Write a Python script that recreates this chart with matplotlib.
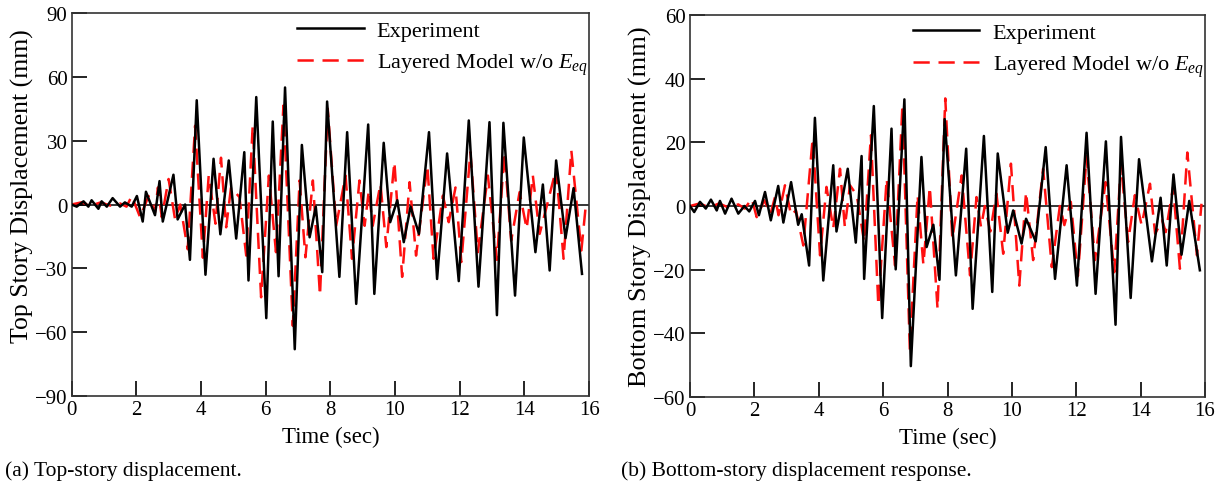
import matplotlib
matplotlib.use("Agg")
import matplotlib.pyplot as plt

plt.rcParams['font.family'] = ['Liberation Serif', 'DejaVu Serif']
plt.rcParams['mathtext.fontset'] = 'custom'
plt.rcParams['mathtext.rm'] = 'Liberation Serif'
plt.rcParams['mathtext.it'] = 'Liberation Serif:italic'

# ---------------- data: top story (a) ----------------
top_exp_t = [0, 0.16, 0.37, 0.52, 0.62, 0.83, 0.93, 1.09, 1.27, 1.5, 1.65, 1.86, 2.02, 2.2, 2.3,
             2.58, 2.72, 2.82, 3.15, 3.28, 3.51, 3.66, 3.87, 4.14, 4.39, 4.6, 4.86, 5.09, 5.34,
             5.47, 5.71, 6.02, 6.22, 6.4, 6.6, 6.9, 7.12, 7.36, 7.55, 7.75, 7.9, 8.28, 8.52,
             8.8, 9.17, 9.36, 9.65, 9.85, 10.07, 10.27, 10.48, 10.74, 11.05, 11.3, 11.61, 11.97,
             12.28, 12.58, 12.92, 13.15, 13.35, 13.71, 13.98, 14.34, 14.57, 14.78, 14.98, 15.27,
             15.52, 15.78]
top_exp_v = [0, -1, 1.5, -1, 2, -2, 1.5, -1, 3, -1, 1, -1, 4, -8, 6,
             -5, 11, -8, 14, -7, 0, -26, 49, -33, 21.5, -14, 20.7, -16, 24.6,
             -35.7, 50.5, -53.4, 39, -33.7, 55, -68, 28, -15.4, -1, -31.8, 48.4, -34, 34,
             -46.7, 37.6, -42, 29, -8.3, 2, -17.7, -1, -13.8, 34, -35, 24, -36,
             39.5, -38.6, 38.7, -52, 38.4, -42.8, 31.5, -22.4, 9.4, -31, 20.7, -15.8,
             7.7, -32.6]

top_mod_t = [0, 0.3, 0.6, 0.9, 1.2, 1.5, 1.7, 1.86, 2.12, 2.38, 2.58, 2.67, 2.79, 3.0, 3.2,
             3.36, 3.59, 3.82, 4.06, 4.24, 4.45, 4.62, 4.78, 4.93, 5.19, 5.4, 5.6, 5.86, 6.1,
             6.32, 6.55, 6.84, 7.05, 7.23, 7.46, 7.68, 7.92, 8.18, 8.47, 8.67, 8.9, 9.06, 9.19,
             9.31, 9.55, 9.73, 9.98, 10.22, 10.45, 10.65, 11.0, 11.19, 11.48, 11.66, 11.87,
             12.05, 12.33, 12.56, 12.87, 13.15, 13.38, 13.59, 13.85, 14.07, 14.26, 14.47, 14.67,
             14.98, 15.21, 15.45, 15.76, 15.9]
top_mod_v = [0, 1, -0.5, 1, -0.5, 0.5, -1, 4, -6, 4, -3.6, 8, -6, 12, -7,
             0, -21, 37, -25, 13.6, -9, 22, -10.7, 8, 3.5, -24, 37, -43.6, 13.6,
             -22.4, 46.5, -57, 11.3, -24.8, 11.3, -42.8, 45, -10, 13.6, -25.5, 11.3, -10, 6.6,
             -10, 9.7, -20, 20, -34, 10.5, -24, 18.3, -25.5, 4.2, -8.3, 8,
             -27, 24.6, -22.4, 13.6, -26, 24.6, -17, 5.8, -11.4, 13.6, -13.8, -2,
             16.8, -25.5, 25.4, -21.6, 0]

# ---------------- data: bottom story (b) ----------------
bot_exp_t = [0, 0.13, 0.31, 0.49, 0.65, 0.83, 0.93, 1.09, 1.29, 1.5, 1.69, 1.84, 2.02, 2.14,
             2.33, 2.51, 2.74, 2.9, 3.14, 3.36, 3.47, 3.7, 3.88, 4.14, 4.45, 4.55, 4.9, 5.15,
             5.33, 5.41, 5.71, 5.97, 6.26, 6.39, 6.66, 6.86, 7.19, 7.35, 7.56, 7.75, 7.91,
             8.26, 8.58, 8.78, 9.13, 9.39, 9.56, 9.87, 10.04, 10.3, 10.44, 10.74, 11.05, 11.34,
             11.7, 12.02, 12.32, 12.6, 12.92, 13.22, 13.39, 13.69, 13.95, 14.35, 14.62, 14.81,
             15.02, 15.27, 15.51, 15.84]
bot_exp_v = [0, -1.9, 1.3, -0.8, 2, -1.4, 1.6, -2.4, 2.3, -2.4, 0, -1.7, 1.6, -2.9,
             4.4, -4.5, 6.3, -5.2, 7.5, -5.9, -2.6, -18.7, 27.7, -23.4, 12.8, -8, 11.7, -11.5,
             15.7, -22.9, 31.4, -35.2, 24.3, -19.9, 33.5, -50.3, 15.4, -12.9, -5.9, -23.2, 27.3,
             -21.8, 18, -32.3, 22, -27, 16.5, -8.4, -1.4, -11.8, -4, -11.1, 18.5, -22.9,
             12.8, -25, 23, -27.6, 20.3, -37.3, 21.7, -28.9, 14.7, -17.4, 2.6, -18.7,
             9.9, -15.3, 1.6, -20.2]

bot_mod_t = [0, 0.3, 0.6, 0.9, 1.2, 1.5, 1.7, 1.92, 2.07, 2.31, 2.5, 2.64, 2.75, 2.95, 3.14,
             3.29, 3.52, 3.81, 4.04, 4.24, 4.45, 4.66, 4.81, 4.97, 5.18, 5.41, 5.62, 5.85, 6.11,
             6.37, 6.6, 6.83, 7.07, 7.25, 7.45, 7.69, 7.93, 8.15, 8.44, 8.7, 8.9, 9.04, 9.16,
             9.33, 9.52, 9.73, 9.97, 10.23, 10.44, 10.66, 10.97, 11.24, 11.49, 11.63, 11.83,
             12.05, 12.32, 12.58, 12.91, 13.18, 13.39, 13.61, 13.82, 14.03, 14.29, 14.45, 14.67,
             14.78, 15.01, 15.22, 15.45, 15.75, 15.89]
bot_mod_v = [0, 0.8, -0.5, 0.8, -0.5, 0.5, -0.8, 2.3, -3.5, 1.8, -2.5, 2.8, -2.9, 6.5, -2.9,
             -1.4, -12.4, 21.2, -15.5, 6, -7, 11.7, -6.6, 6.5, 3.4, -11.3, 22.2, -31.2, 8.6,
             -18.7, 31.9, -45.4, 3.4, -18.4, 6, -32.3, 33.8, -10.3, 9.6, -21.8, 2.8, -6.6, 0,
             -8, 3.9, -15, 13.3, -25, 4.4, -17, 11.7, -19.2, 0, -6, 1.3,
             -22, 15.7, -17, 7.5, -20.8, 13.3, -11.3, 3.4, -6, 7, -8.7, -4.5,
             -8.2, 6, -19.7, 16.8, -15.5, 0.7]

xticks = [0, 2, 4, 6, 8, 10, 12, 14, 16]
top_yticks = [-90, -60, -30, 0, 30, 60, 90]
bot_yticks = [-60, -40, -20, 0, 20, 40, 60]

labels = ["Experiment", r"Layered Model w/o $E_{eq}$"]

fig = plt.figure(figsize=(12.23, 4.85), dpi=100)
ax1 = fig.add_axes([0.0585, 0.1814, 0.4232, 0.7897])
ax2 = fig.add_axes([0.5642, 0.1794, 0.4211, 0.7876])

TICK_FS = 15
XLAB_FS = 16.5
LEG_FS = 16
CAP_FS = 15.5

def style(ax, ylim, yticks, ylabel, ylab_fs, ylab_y):
    ax.set_xlim(0, 16)
    ax.set_ylim(*ylim)
    ax.set_xticks(xticks)
    ax.set_yticks(yticks)
    ax.set_yticklabels([("\u2212%d" % -v) if v < 0 else "%d" % v for v in yticks])
    ax.tick_params(direction='in', length=11, width=1.2, labelsize=TICK_FS,
                   top=False, right=False, pad=3)
    for s in ax.spines.values():
        s.set_linewidth(1.2)
        s.set_color('#333333')
    ax.set_xlabel("Time (sec)", fontsize=XLAB_FS, labelpad=5)
    ax.set_ylabel(ylabel, fontsize=ylab_fs)
    ax.yaxis.set_label_coords(-0.073, ylab_y)
    ax.axhline(0, color='black', lw=1.1, zorder=1)

def draw(ax, et, ev, mt, mv):
    ax.plot(et, ev, color='black', lw=1.8, label=labels[0], zorder=3)
    ax.plot(mt, mv, color='#ff1010', lw=1.8, ls=(0, (6.5, 3.5)), label=labels[1], zorder=2)
    ax.legend(loc='upper right', bbox_to_anchor=(1.021, 1.012), frameon=False,
              fontsize=LEG_FS, handlelength=3.0, handletextpad=0.6, borderaxespad=0.15,
              labelspacing=0.45)

draw(ax1, top_exp_t, top_exp_v, top_mod_t, top_mod_v)
style(ax1, (-90, 90), top_yticks, "Top Story Displacement (mm)", 18.5, 0.55)
draw(ax2, bot_exp_t, bot_exp_v, bot_mod_t, bot_mod_v)
style(ax2, (-60, 60), bot_yticks, "Bottom Story Displacement (mm)", 19, 0.5)

fig.text(0.004, 0.018, "(a) Top-story displacement.", fontsize=CAP_FS)
fig.text(0.508, 0.018, "(b) Bottom-story displacement response.", fontsize=CAP_FS)

fig.savefig("out.png", dpi=100)
